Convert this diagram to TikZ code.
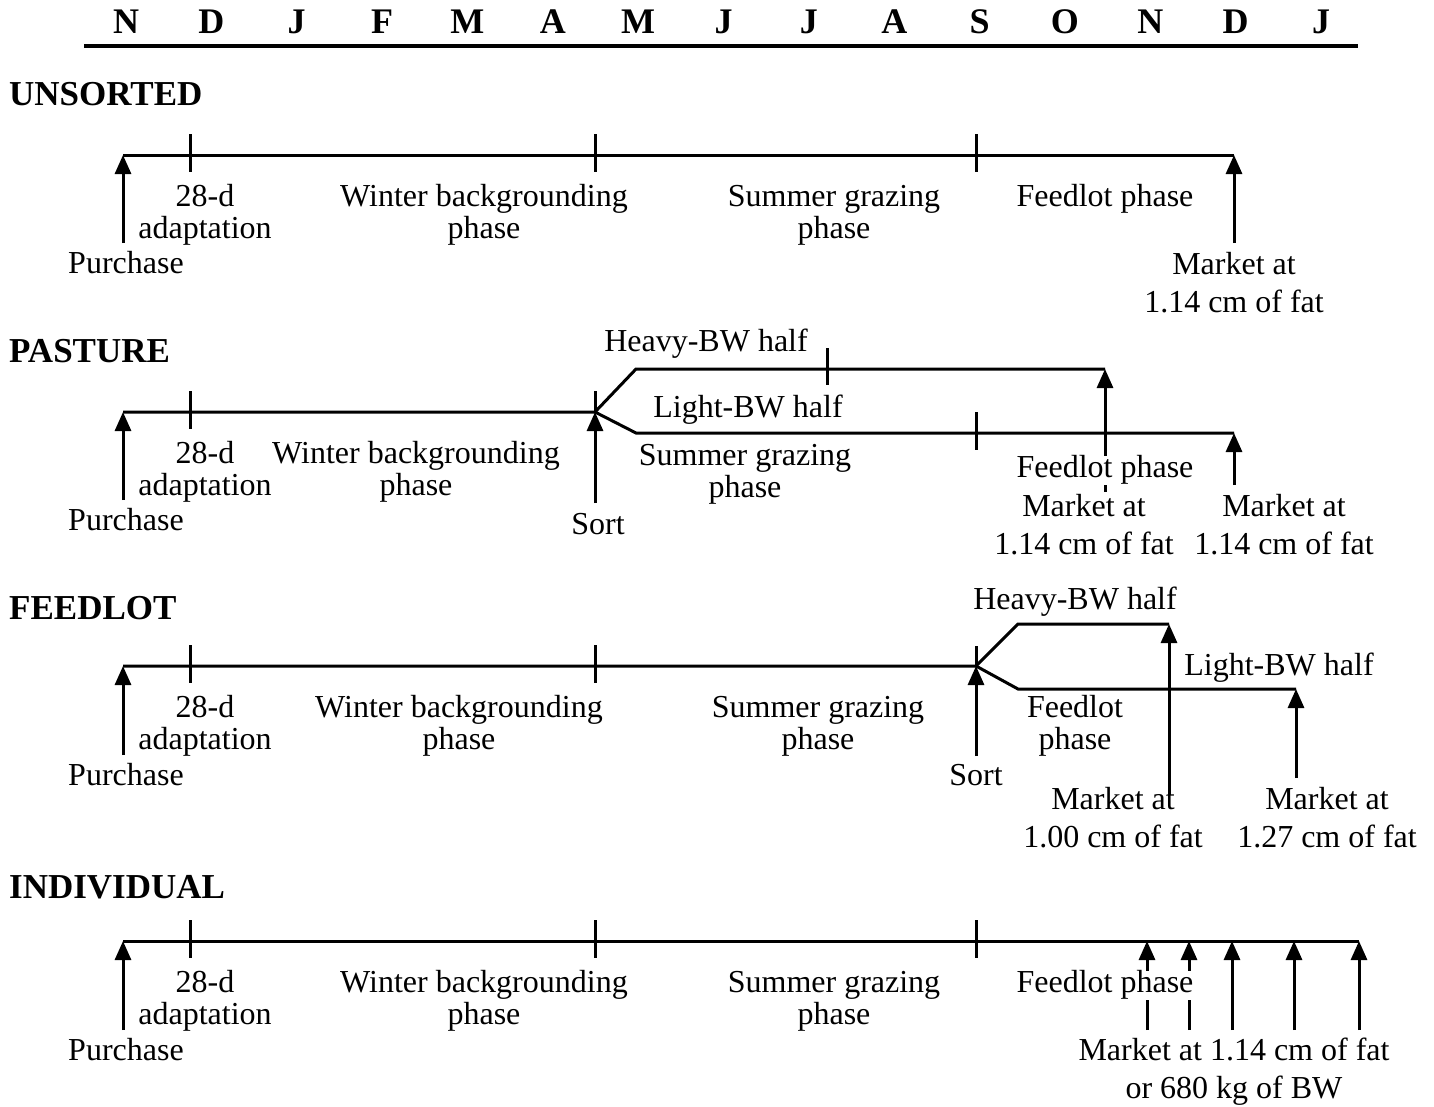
\documentclass[tikz,border=0pt]{standalone}
\usepackage{fontspec}
\setmainfont{Liberation Serif}
\usetikzlibrary{arrows.meta}
\begin{document}
\begin{tikzpicture}[x=1pt,y=-1pt,
 ln/.style={line width=3pt},
 arr/.style={line width=3pt,-{Triangle[width=16pt,length=19pt]}},
 lbl/.style={font=\fontsize{32}{32}\selectfont,inner sep=0pt,align=center},
 wlbl/.style={lbl,fill=white},
 hd/.style={font=\fontsize{35}{35}\selectfont\bfseries,inner sep=0pt,anchor=west},
 mo/.style={font=\fontsize{36}{36}\selectfont\bfseries,inner sep=0pt}]
\useasboundingbox[fill=white] (0,0) rectangle (1434,1106);

% ---------- month header ----------
\foreach \m [count=\i] in {N,D,J,F,M,A,M,J,J,A,S,O,N,D,J}
  \node[mo] (m\i) at ({126+85.36*(\i-1)},22) {\m};
\coordinate (hL) at (84,46);
\coordinate (hR) at (1358,46);
\draw[line width=4pt] (hL) -- (hR);

% ---------- section titles ----------
\node[hd] (tU) at (9,94) {UNSORTED};
\node[hd] (tP) at (9,351) {PASTURE};
\node[hd] (tF) at (9,608) {FEEDLOT};
\node[hd] (tI) at (9,887) {INDIVIDUAL};

% ---------- UNSORTED ----------
\coordinate (u0) at (123,155);
\coordinate (uE) at (1234,155);
\draw[ln] (u0) -- (uE);
\foreach \x/\n in {190/a,595/b,976/c}{
  \coordinate (ut\n1) at (\x,134);
  \coordinate (ut\n2) at (\x,172);
  \draw[ln] (ut\n1) -- (ut\n2);
}
\coordinate (uPa) at (123,243);
\coordinate (uMa) at (1234,243);
\draw[arr] (uPa) -- (u0);
\draw[arr] (uMa) -- (uE);
\node[lbl] (uAd) at (205,215) {28-d\\adaptation};
\node[lbl] (uPu) at (126,263) {Purchase};
\node[lbl] (uWi) at (484,215) {Winter backgrounding\\phase};
\node[lbl] (uSu) at (834,215) {Summer grazing\\phase};
\node[lbl] (uFe) at (1105,199) {Feedlot phase};
\node[lbl] (uMk) at (1234,283) {Market at\\[6pt]1.14 cm of fat};

% ---------- PASTURE ----------
\coordinate (p0) at (123,412);
\coordinate (pS) at (595,412);
\coordinate (pHu) at (636,369);
\coordinate (pHe) at (1105,369);
\coordinate (pLd) at (636,433);
\coordinate (pLe) at (1234,433);
\draw[ln,line join=miter] (p0) -- (pS) -- (pHu) -- (pHe);
\draw[ln,line join=miter] (pS) -- (pLd) -- (pLe);
\coordinate (pta1) at (190,391); \coordinate (pta2) at (190,429);
\draw[ln] (pta1) -- (pta2);
\coordinate (ptb1) at (595,391);
\draw[ln] (ptb1) -- (pS);
\coordinate (ptc1) at (827,348); \coordinate (ptc2) at (827,385);
\draw[ln] (ptc1) -- (ptc2);
\coordinate (ptd1) at (976,412); \coordinate (ptd2) at (976,450);
\draw[ln] (ptd1) -- (ptd2);
\coordinate (pPa) at (123,500);
\coordinate (pSa) at (595,503);
\coordinate (pHa) at (1105,492);
\coordinate (pLa) at (1234,485);
\draw[arr] (pPa) -- (p0);
\draw[arr] (pSa) -- (pS);
\draw[arr] (pHa) -- (pHe);
\draw[arr] (pLa) -- (pLe);
\node[lbl] (pHv) at (706,344) {Heavy-BW half};
\node[lbl] (pLt) at (748,410) {Light-BW half};
\node[lbl] (pAd) at (205,472) {28-d\\adaptation};
\node[lbl] (pPu) at (126,520) {Purchase};
\node[lbl] (pWi) at (416,472) {Winter backgrounding\\phase};
\node[lbl] (pSu) at (745,474) {Summer grazing\\phase};
\node[lbl] (pSo) at (598,524) {Sort};
\node[wlbl] (pFe) at (1105,470) {Feedlot phase};
\node[lbl] (pM1) at (1084,525) {Market at\\[6pt]1.14 cm of fat};
\node[lbl] (pM2) at (1284,525) {Market at\\[6pt]1.14 cm of fat};

% ---------- FEEDLOT ----------
\coordinate (f0) at (123,666);
\coordinate (fS) at (976,666);
\coordinate (fHu) at (1018,624);
\coordinate (fHe) at (1169,624);
\coordinate (fLd) at (1018,689);
\coordinate (fLe) at (1296,689);
\draw[ln,line join=miter] (f0) -- (fS) -- (fHu) -- (fHe);
\draw[ln,line join=miter] (fS) -- (fLd) -- (fLe);
\foreach \x/\n in {190/a,595/b}{
  \coordinate (ft\n1) at (\x,645);
  \coordinate (ft\n2) at (\x,683);
  \draw[ln] (ft\n1) -- (ft\n2);
}
\coordinate (ftc1) at (976,646);
\draw[ln] (ftc1) -- (fS);
\coordinate (fPa) at (123,755);
\coordinate (fSa) at (976,756);
\coordinate (fHa) at (1169,795);
\coordinate (fLa) at (1296,778);
\draw[arr] (fPa) -- (f0);
\draw[arr] (fSa) -- (fS);
\draw[arr] (fHa) -- (fHe);
\draw[arr] (fLa) -- (fLe);
\node[lbl] (fHv) at (1075,602) {Heavy-BW half};
\node[lbl] (fLt) at (1279,668) {Light-BW half};
\node[lbl] (fFe) at (1075,726) {Feedlot\\phase};
\node[lbl] (fAd) at (205,726) {28-d\\adaptation};
\node[lbl] (fPu) at (126,775) {Purchase};
\node[lbl] (fWi) at (459,726) {Winter backgrounding\\phase};
\node[lbl] (fSu) at (818,726) {Summer grazing\\phase};
\node[lbl] (fSo) at (976,775) {Sort};
\node[lbl] (fM1) at (1113,818) {Market at\\[6pt]1.00 cm of fat};
\node[lbl] (fM2) at (1327,818) {Market at\\[6pt]1.27 cm of fat};

% ---------- INDIVIDUAL ----------
\coordinate (i0) at (123,941);
\coordinate (iE) at (1359,941);
\draw[ln] (i0) -- (iE);
\foreach \x/\n in {190/a,595/b,976/c}{
  \coordinate (it\n1) at (\x,920);
  \coordinate (it\n2) at (\x,958);
  \draw[ln] (it\n1) -- (it\n2);
}
\coordinate (iPa) at (123,1030);
\draw[arr] (iPa) -- (i0);
\foreach \x/\n in {1147/1,1189/2,1232/3,1294/4,1359/5}{
  \coordinate (ia\n) at (\x,1030);
  \coordinate (ib\n) at (\x,941);
  \draw[arr] (ia\n) -- (ib\n);
}
\node[lbl] (iAd) at (205,1001) {28-d\\adaptation};
\node[lbl] (iPu) at (126,1050) {Purchase};
\node[lbl] (iWi) at (484,1001) {Winter backgrounding\\phase};
\node[lbl] (iSu) at (834,1001) {Summer grazing\\phase};
\node[wlbl] (iFe) at (1105,985) {Feedlot phase};
\node[lbl] (iMk) at (1234,1072) {Market at 1.14 cm of fat\\[6pt]or 680 kg of BW};
\end{tikzpicture}
\end{document}
